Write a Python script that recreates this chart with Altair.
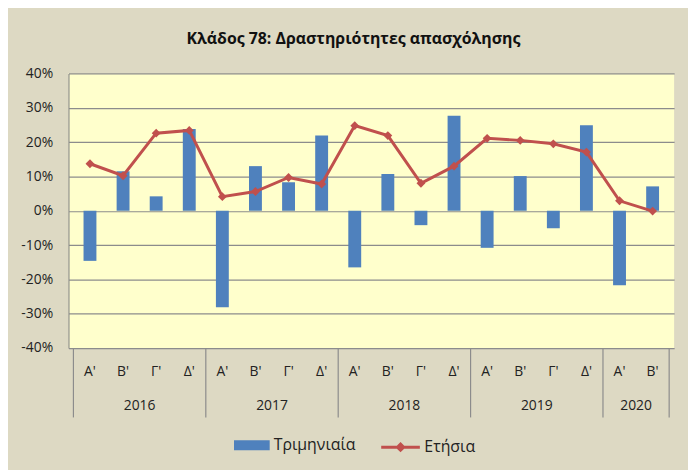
import altair as alt
import pandas as pd

years = ["2016"] * 4 + ["2017"] * 4 + ["2018"] * 4 + ["2019"] * 4 + ["2020"] * 2
quarters = ["Α'", "Β'", "Γ'", "Δ'"] * 4 + ["Α'", "Β'"]
quarterly = [-0.146, 0.115, 0.042, 0.238,
             -0.281, 0.130, 0.083, 0.219,
             -0.165, 0.107, -0.042, 0.277,
             -0.108, 0.101, -0.051, 0.249,
             -0.217, 0.071]
annual = [0.137, 0.102, 0.226, 0.234,
          0.041, 0.056, 0.097, 0.078,
          0.248, 0.219, 0.080, 0.130,
          0.211, 0.205, 0.195, 0.171,
          0.029, -0.001]
ticks = [-0.4, -0.3, -0.2, -0.1, 0.0, 0.1, 0.2, 0.3, 0.4]

FONT = "Open Sans"
W, H = 611, 277

df = pd.DataFrame({
    "i": list(range(len(years))),
    "year": years,
    "quarter": quarters,
    "q": quarterly,
    "a": annual,
})
df["pos"] = df["i"] + 0.5
df["s1"] = "Τριμηνιαία"
df["s2"] = "Ετήσια"

grp = df.groupby("year")["i"]
bounds = sorted(set(list(grp.min()) + list(grp.max() + 1)))
sep = pd.DataFrame({"b": bounds})

xs = alt.Scale(domain=[0, len(years)], nice=False, zero=False)
ys = alt.Scale(domain=[-0.4, 0.4], nice=False)
yaxis = alt.Axis(
    values=ticks, labelExpr="replace(format(datum.value, '.0%'), '\u2212', '-')",
    grid=True, gridColor="#8c8c8c", gridWidth=1.2, ticks=False,
    domain=True, domainColor="#8c8c8c", domainWidth=1.2,
    labelFont=FONT, labelFontSize=14, labelColor="#222222",
    labelPadding=16, labelOverlap=False, title=None)

base = alt.Chart(df)

bars = base.mark_bar(size=13).encode(
    x=alt.X("pos:Q", scale=xs, axis=None),
    y=alt.Y("q:Q", scale=ys, axis=yaxis),
    fill=alt.Fill("s1:N", scale=alt.Scale(domain=["Τριμηνιαία"], range=["#4F81BD"]),
                  legend=alt.Legend(
                      title=None, orient="none", legendX=167, legendY=357,
                      symbolType="M-1,-0.28H1V0.28H-1Z", symbolSize=1296,
                      symbolStrokeWidth=0, labelFont=FONT, labelFontSize=16,
                      labelColor="#222222", labelOffset=4, padding=0)),
)

line = base.mark_line(strokeWidth=3).encode(
    x=alt.X("pos:Q", scale=xs, axis=None),
    y=alt.Y("a:Q", scale=ys, axis=yaxis),
    stroke=alt.Stroke("s2:N", scale=alt.Scale(domain=["Ετήσια"], range=["#C0504D"]),
                      legend=alt.Legend(
                          title=None, orient="none", legendX=314, legendY=356,
                          symbolType="M-1,0H1M0,-0.16L0.16,0L0,0.16L-0.16,0Z",
                          symbolSize=1521, symbolStrokeWidth=3,
                          symbolFillColor="#C0504D",
                          labelFont=FONT, labelFontSize=16,
                          labelColor="#222222", labelOffset=3, padding=0)),
)

points = base.mark_point(shape="diamond", filled=True, size=80, color="#C0504D",
                         opacity=1).encode(
    x=alt.X("pos:Q", scale=xs, axis=None),
    y=alt.Y("a:Q", scale=ys, axis=yaxis),
)

qlabels = base.mark_text(font=FONT, fontSize=14, color="#222222",
                         baseline="middle").encode(
    x=alt.X("pos:Q", scale=xs, axis=None),
    y=alt.value(H + 24),
    text="quarter:N",
)

ylabels = base.transform_aggregate(
    c="mean(pos)", groupby=["year"]
).mark_text(font=FONT, fontSize=14, color="#222222", baseline="middle").encode(
    x=alt.X("c:Q", scale=xs, axis=None),
    y=alt.value(H + 59),
    text="year:N",
)

seps = alt.Chart(sep).mark_rule(color="#8c8c8c", strokeWidth=1.2).encode(
    x=alt.X("b:Q", scale=xs, axis=None),
    y=alt.value(H),
    y2=alt.value(H + 70),
)

chart = alt.layer(bars, line, points, qlabels, ylabels, seps).properties(
    width=W, height=H,
    title=alt.TitleParams("Κλάδος 78: Δραστηριότητες απασχόλησης",
                          font=FONT, fontSize=16, fontWeight="bold",
                          color="#111111", anchor="middle", offset=20, dx=-18),
    autosize=alt.AutoSizeParams(type="none"),
    padding={"left": 61, "top": 64, "right": 14, "bottom": 121},
    background="#DDD9C3",
).configure_view(fill="#FFFFCC", stroke=None)

chart.save("out.html", embed_options={"renderer": "svg", "actions": False})
